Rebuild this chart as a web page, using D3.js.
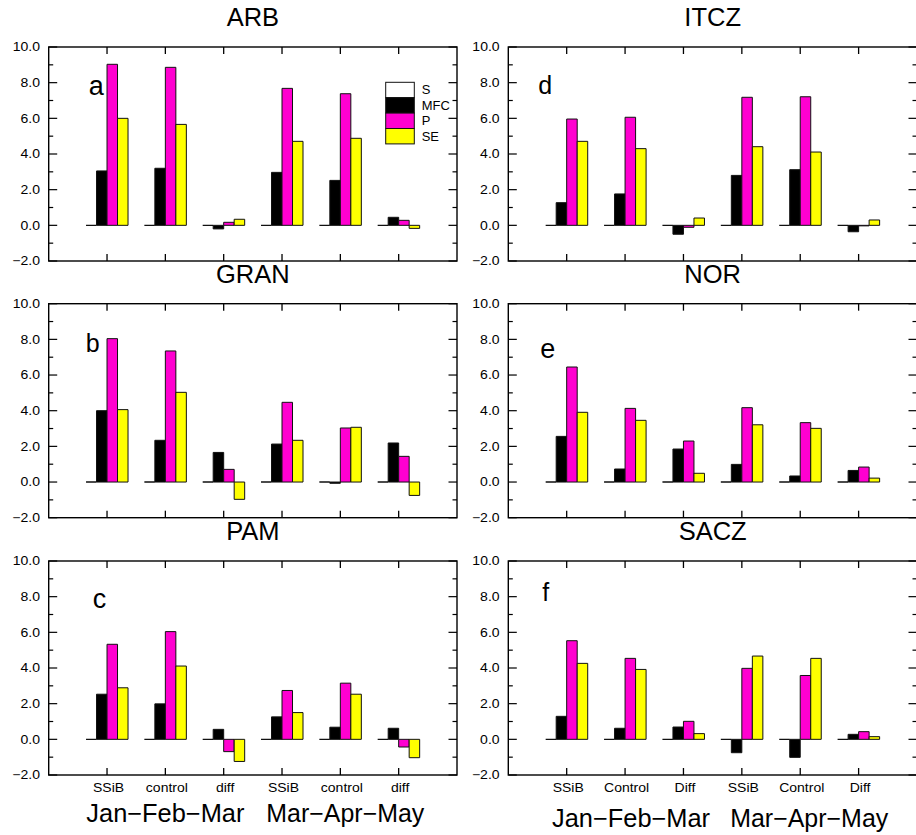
<!DOCTYPE html>
<html>
<head>
<meta charset="utf-8">
<script src="https://cdn.jsdelivr.net/npm/d3@7"></script>
<style>
  html, body { margin: 0; padding: 0; background: #fff; }
  svg { display: block; font-family: "Liberation Sans", Arial, Helvetica, sans-serif; }
</style>
</head>
<body>
<svg id="chart" width="916" height="835"></svg>
<script>
// ---------------- DATA ----------------
const series = ["S", "MFC", "P", "SE"];
const seriesColors = ["#ffffff", "#000000", "#ff00d0", "#ffff00"];
const categoriesLeft = ["SSiB", "control", "diff", "SSiB", "control", "diff"];
const categoriesRight = ["SSiB", "Control", "Diff", "SSiB", "Control", "Diff"];
const seasons = ["Jan\u2212Feb\u2212Mar", "Mar\u2212Apr\u2212May"];
const regions = ["ARB", "GRAN", "PAM", "ITCZ", "NOR", "SACZ"];
const panelLetters = ["a", "b", "c", "d", "e", "f"];
const yTicks = [-2, 0, 2, 4, 6, 8, 10];
const yTickLabels = ["\u22122.0", "0.0", "2.0", "4.0", "6.0", "8.0", "10.0"];

// ARB (a)
const arbS   = [0, 0, 0, 0, 0, 0];
const arbMFC = [3.05, 3.20, -0.20, 2.97, 2.52, 0.45];
const arbP   = [9.03, 8.86, 0.17, 7.68, 7.38, 0.28];
const arbSE  = [6.00, 5.66, 0.34, 4.71, 4.88, -0.17];
// GRAN (b)
const granS   = [0, 0, 0, 0, 0, 0];
const granMFC = [4.00, 2.34, 1.66, 2.13, -0.07, 2.19];
const granP   = [8.04, 7.35, 0.71, 4.47, 3.03, 1.44];
const granSE  = [4.06, 5.03, -0.97, 2.34, 3.07, -0.75];
// PAM (c)
const pamS   = [0, 0, 0, 0, 0, 0];
const pamMFC = [2.53, 1.99, 0.56, 1.26, 0.68, 0.62];
const pamP   = [5.33, 6.04, -0.69, 2.74, 3.15, -0.43];
const pamSE  = [2.89, 4.11, -1.24, 1.50, 2.53, -1.03];
// ITCZ (d)
const itczS   = [0, 0, 0, 0, 0, 0];
const itczMFC = [1.27, 1.76, -0.50, 2.80, 3.12, -0.36];
const itczP   = [5.96, 6.06, -0.11, 7.18, 7.21, -0.03];
const itczSE  = [4.71, 4.30, 0.41, 4.41, 4.11, 0.30];
// NOR (e)
const norS   = [0, 0, 0, 0, 0, 0];
const norMFC = [2.56, 0.73, 1.85, 0.99, 0.34, 0.65];
const norP   = [6.45, 4.13, 2.30, 4.17, 3.33, 0.84];
const norSE  = [3.91, 3.46, 0.49, 3.21, 3.01, 0.22];
// SACZ (f)
const saczS   = [0, 0, 0, 0, 0, 0];
const saczMFC = [1.29, 0.62, 0.69, -0.75, -1.01, 0.28];
const saczP   = [5.53, 4.54, 1.01, 3.98, 3.58, 0.43];
const saczSE  = [4.26, 3.92, 0.32, 4.67, 4.54, 0.15];

const panelValues = [
  [arbS, arbMFC, arbP, arbSE],
  [granS, granMFC, granP, granSE],
  [pamS, pamMFC, pamP, pamSE],
  [itczS, itczMFC, itczP, itczSE],
  [norS, norMFC, norP, norSE],
  [saczS, saczMFC, saczP, saczSE]
];

// ---------------- LAYOUT ----------------
const colX = [[48.7, 457], [508.3, 917]];
const rowTop = [47, 303.7, 561];
const panelH = 214;
const letterPos = [[40, 48, 27], [37, 48, 25], [44, 47, 27], [30, 47, 25], [32, 54, 27], [34, 40, 25]];
const seasonLayout = [
  { offs: [0, 5], base: 822 },
  { offs: [6, 9], base: 827 }
];

const svg = d3.select("#chart");
svg.append("rect").attr("width", 916).attr("height", 835).attr("fill", "#fff");

panelValues.forEach((vals, pi) => {
  const col = pi < 3 ? 0 : 1;
  const row = pi % 3;
  const [x0, x1] = colX[col];
  const top = rowTop[row];
  const bottom = top + panelH;
  const cats = col === 0 ? categoriesLeft : categoriesRight;

  const x = d3.scaleLinear().domain([0, 7]).range([x0, x1]);
  const y = d3.scaleLinear().domain([-2, 10]).range([bottom, top]);
  const inner = d3.scaleBand().domain(series).range([-0.36, 0.36]).padding(0);

  const g = svg.append("g");

  // title
  g.append("text")
    .attr("x", (x0 + x1) / 2).attr("y", top - 21)
    .attr("text-anchor", "middle")
    .attr("font-size", 25.5)
    .text(regions[pi]);

  // bars
  series.forEach((s, si) => {
    vals[si].forEach((v, ci) => {
      const bx0 = x(ci + 1 + inner(s));
      const bx1 = x(ci + 1 + inner(s) + inner.bandwidth());
      const y0 = y(0), y1 = y(v);
      g.append("path")
        .attr("d", `M${bx0},${y0}H${bx1}V${y1}H${bx0}Z`)
        .attr("fill", seriesColors[si])
        .attr("stroke", "#111")
        .attr("stroke-width", si === 0 ? 1.4 : 1);
    });
  });

  // frame
  g.append("rect")
    .attr("x", x0).attr("y", top)
    .attr("width", x1 - x0).attr("height", panelH)
    .attr("fill", "none").attr("stroke", "#000").attr("stroke-width", 1.4);

  // x ticks (top and bottom, inward)
  d3.range(1, 7).forEach(t => {
    g.append("line").attr("x1", x(t)).attr("x2", x(t))
      .attr("y1", top).attr("y2", top + 7)
      .attr("stroke", "#000").attr("stroke-width", 1.3);
    g.append("line").attr("x1", x(t)).attr("x2", x(t))
      .attr("y1", bottom).attr("y2", bottom - 7)
      .attr("stroke", "#000").attr("stroke-width", 1.3);
  });

  // y ticks (left and right, inward), major every 2, minor every 1
  d3.range(-2, 11, 1).forEach(v => {
    const major = v % 2 === 0;
    const len = major ? 8.5 : 4.5;
    g.append("line").attr("x1", x0).attr("x2", x0 + len)
      .attr("y1", y(v)).attr("y2", y(v))
      .attr("stroke", "#000").attr("stroke-width", 1.2);
    g.append("line").attr("x1", x1).attr("x2", x1 - len)
      .attr("y1", y(v)).attr("y2", y(v))
      .attr("stroke", "#000").attr("stroke-width", 1.2);
  });

  // y tick labels
  yTicks.forEach((v, i) => {
    g.append("text")
      .attr("transform", `translate(${x0 - 8.7},${y(v) + 4.4}) scale(1.15,1)`)
      .attr("text-anchor", "end")
      .attr("font-size", 12.2)
      .text(yTickLabels[i]);
  });

  // panel letter
  const [lx, ly, ls] = letterPos[pi];
  g.append("text")
    .attr("x", x0 + lx).attr("y", top + ly)
    .attr("font-size", ls)
    .text(panelLetters[pi]);

  // bottom row: category labels and season labels
  if (row === 2) {
    cats.forEach((c, ci) => {
      g.append("text")
        .attr("transform", `translate(${x(ci + 1) + 1.5},${bottom + 16.5}) scale(1.12,1)`)
        .attr("text-anchor", "middle")
        .attr("font-size", 12.5)
        .text(c);
    });
    const sl = seasonLayout[col];
    seasons.forEach((s, si) => {
      const cx = x(si === 0 ? 2 : 5) + sl.offs[si];
      g.append("text")
        .attr("x", cx - 79).attr("y", sl.base)
        .attr("font-size", 25)
        .attr("textLength", 158)
        .attr("lengthAdjust", "spacingAndGlyphs")
        .text(s);
    });
  }

  // legend (panel a only)
  if (pi === 0) {
    const lg = g.append("g").attr("transform", `translate(${x0 + 337},${top + 35.3})`);
    const bh = 15.4, bw = 28.6;
    series.forEach((s, si) => {
      lg.append("rect")
        .attr("x", 0).attr("y", si * bh)
        .attr("width", bw).attr("height", bh)
        .attr("fill", seriesColors[si])
        .attr("stroke", "#111").attr("stroke-width", 1);
      lg.append("text")
        .attr("transform", `translate(${bw + 7.4},${si * bh + bh / 2 + 4.3}) scale(1.08,1)`)
        .attr("font-size", 12)
        .text(s);
    });
  }
});
</script>
</body>
</html>
